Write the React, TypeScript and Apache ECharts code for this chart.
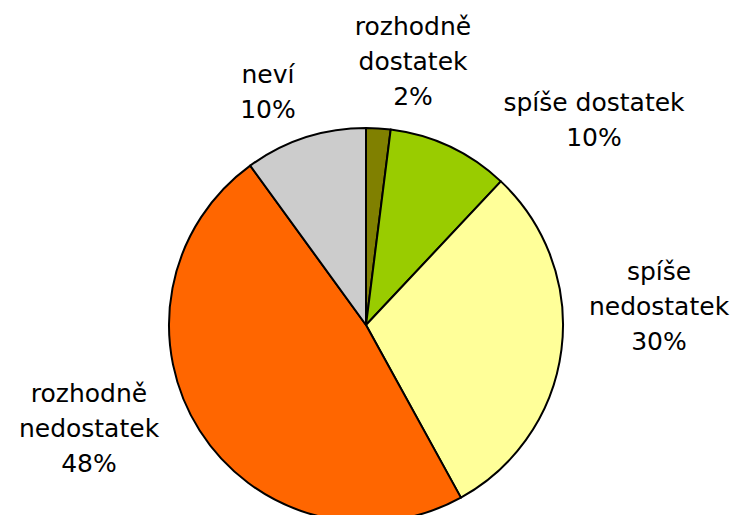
import React, { useEffect, useRef } from "react";
import * as echarts from "echarts";

const categories = ["rozhodně\ndostatek", "spíše dostatek", "spíše\nnedostatek", "rozhodně\nnedostatek", "neví"];
const values = [2, 10, 30, 48, 10];
const colors = ["#808000", "#99CC00", "#FFFF99", "#FF6600", "#CCCCCC"];
const labelAnchors = [
  [413, 61],
  [594, 120],
  [659, 306],
  [89, 428],
  [268, 92],
];

export default function App() {
  const ref = useRef<HTMLDivElement>(null);
  useEffect(() => {
    const chart = echarts.init(ref.current!, null, { renderer: "svg" });
    chart.setOption({
      animation: false,
      backgroundColor: "#ffffff",
      series: [
        {
          type: "pie",
          center: [366, 325],
          radius: 197,
          startAngle: 90,
          clockwise: true,
          avoidLabelOverlap: false,
          data: categories.map((c, i) => ({
            name: c,
            value: values[i],
            itemStyle: { color: colors[i] },
          })),
          itemStyle: { borderColor: "#000000", borderWidth: 2 },
          label: {
            show: true,
            position: "outside",
            alignTo: "none",
            overflow: "none",
            width: 300,
            formatter: "{b}\n{c}%",
            fontFamily: "DejaVu Sans",
            fontSize: 25,
            lineHeight: 35,
            color: "#000000",
            align: "center",
          },
          labelLine: { show: false },
          labelLayout: (p: any) => ({
            x: labelAnchors[p.dataIndex][0],
            y: labelAnchors[p.dataIndex][1],
            align: "center",
            verticalAlign: "middle",
          }),
          emphasis: { disabled: true },
        },
      ],
    });
    return () => chart.dispose();
  }, []);
  return (
    <div
      ref={ref}
      style={{ width: 734, height: 515, position: "absolute", left: 0, top: 0 }}
    />
  );
}
